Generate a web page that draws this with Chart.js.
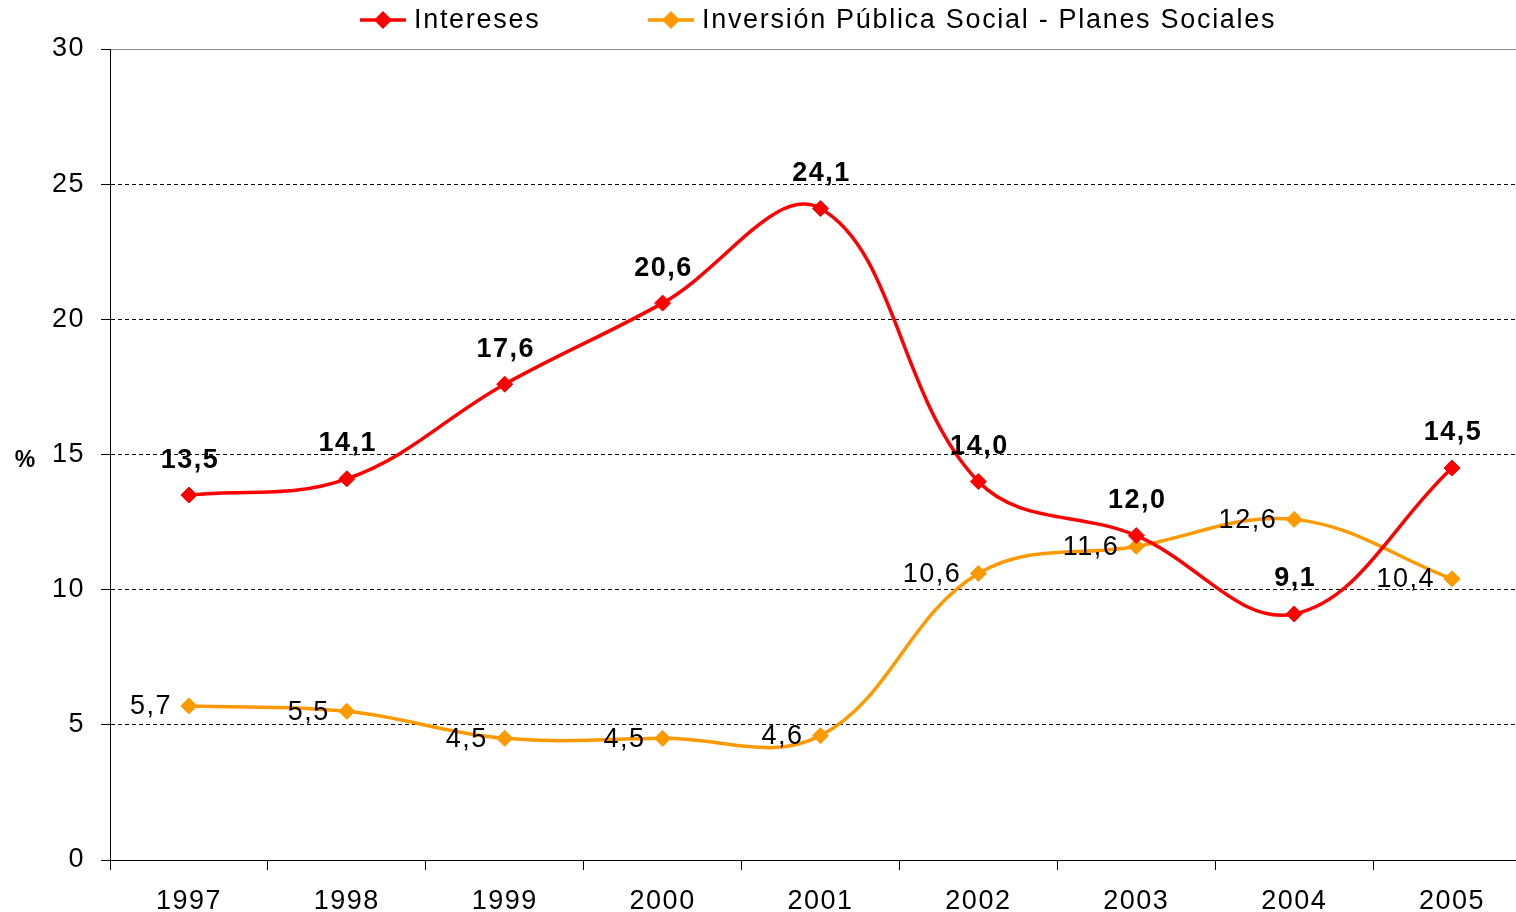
<!DOCTYPE html>
<html>
<head>
<meta charset="utf-8">
<script src="https://cdn.jsdelivr.net/npm/chart.js@4/dist/chart.umd.min.js"></script>
<style>
  html, body { margin: 0; padding: 0; background: #fff; overflow: hidden; }
  #wrap { width: 1540px; height: 930px; }
</style>
</head>
<body>
<div id="wrap"><canvas id="chart" width="1540" height="930"></canvas></div>
<script>
const years = ['1997', '1998', '1999', '2000', '2001', '2002', '2003', '2004', '2005'];
const intereses = [13.5, 14.1, 17.6, 20.6, 24.1, 14.0, 12.0, 9.1, 14.5];
const inversionSocial = [5.7, 5.5, 4.5, 4.5, 4.6, 10.6, 11.6, 12.6, 10.4];
const yTicks = [0, 5, 10, 15, 20, 25, 30];

const FONT = '"Liberation Sans", Arial, sans-serif';
const RED = '#ff0000';
const ORANGE = '#ff9900';

const fmt = (v) => v.toFixed(1).replace('.', ',');

function diamond(ctx, x, y, r, color) {
  ctx.beginPath();
  ctx.moveTo(x, y - r);
  ctx.lineTo(x + r, y);
  ctx.lineTo(x, y + r);
  ctx.lineTo(x - r, y);
  ctx.closePath();
  ctx.fillStyle = color;
  ctx.fill();
}

// the original text is a little wider than Liberation Sans, so space it out
const spacing = {
  id: 'spacing',
  beforeDraw(chart) {
    chart.ctx.letterSpacing = '1.5px';
  }
};

// value labels: bold above for Intereses, plain to the left for the orange series
const valueLabels = {
  id: 'valueLabels',
  afterDatasetsDraw(chart) {
    const ctx = chart.ctx;
    ctx.save();
    ctx.fillStyle = '#000';
    ctx.textBaseline = 'middle';
    chart.getDatasetMeta(0).data.forEach((pt, i) => {
      ctx.font = `bold 27px ${FONT}`;
      ctx.textAlign = 'center';
      ctx.fillText(fmt(intereses[i]), pt.x + 1, pt.y - 35);
    });
    chart.getDatasetMeta(1).data.forEach((pt, i) => {
      ctx.font = `27px ${FONT}`;
      ctx.textAlign = 'right';
      ctx.fillText(fmt(inversionSocial[i]), pt.x - 17, pt.y + 1);
    });
    ctx.restore();
  }
};

// legend across the top and the "%" axis caption
const topLegend = {
  id: 'topLegend',
  afterDraw(chart) {
    const ctx = chart.ctx;
    ctx.save();
    ctx.letterSpacing = '1.7px';
    ctx.font = `27px ${FONT}`;
    ctx.textBaseline = 'middle';
    ctx.textAlign = 'left';
    const y = 20;
    const items = [
      { x: 360, color: RED, text: 'Intereses' },
      { x: 648, color: ORANGE, text: 'Inversión Pública Social - Planes Sociales' }
    ];
    items.forEach((it) => {
      ctx.strokeStyle = it.color;
      ctx.lineWidth = 3.5;
      ctx.beginPath();
      ctx.moveTo(it.x, y);
      ctx.lineTo(it.x + 46, y);
      ctx.stroke();
      diamond(ctx, it.x + 23, y, 9, it.color);
      ctx.fillStyle = '#000';
      ctx.fillText(it.text, it.x + 54, y + 1);
    });

    ctx.letterSpacing = '0px';
    ctx.font = `bold 23px ${FONT}`;
    ctx.textAlign = 'center';
    ctx.fillText('%', 25, 461);
    ctx.restore();
  }
};

new Chart(document.getElementById('chart'), {
  type: 'line',
  data: {
    labels: years,
    datasets: [
      {
        label: 'Intereses',
        data: intereses,
        borderColor: RED,
        backgroundColor: RED,
        borderWidth: 3.5,
        tension: 0.38,
        pointStyle: 'rectRot',
        pointRadius: 8,
        pointBorderWidth: 1,
        pointBackgroundColor: RED,
        pointBorderColor: RED
      },
      {
        label: 'Inversión Pública Social - Planes Sociales',
        data: inversionSocial,
        borderColor: ORANGE,
        backgroundColor: ORANGE,
        borderWidth: 3.5,
        tension: 0.38,
        pointStyle: 'rectRot',
        pointRadius: 8,
        pointBorderWidth: 1,
        pointBackgroundColor: ORANGE,
        pointBorderColor: ORANGE
      }
    ]
  },
  options: {
    responsive: false,
    animation: false,
    layout: { padding: { top: 49, right: 0, left: 0, bottom: 0 } },
    plugins: {
      legend: { display: false },
      tooltip: { enabled: false }
    },
    scales: {
      x: {
        offset: true,
        grid: {
          offset: true,
          drawOnChartArea: false,
          tickLength: 10,
          tickColor: '#000',
          color: '#000'
        },
        border: { color: '#000', width: 1 },
        ticks: {
          color: '#000',
          font: { family: FONT, size: 27 },
          padding: 15,
          maxRotation: 0
        },
        afterFit: (scale) => { scale.height = 70; }
      },
      y: {
        min: 0,
        max: 30,
        afterBuildTicks: (scale) => { scale.ticks = yTicks.map((v) => ({ value: v })); },
        grid: {
          color: (c) => (c.tick && c.tick.value === 30 ? '#8c8c8c' : '#000'),
          lineWidth: 1,
          tickLength: 9,
          tickColor: '#000'
        },
        border: {
          color: '#000',
          width: 1,
          dash: (c) => (c.tick && c.tick.value !== 30 && c.tick.value !== 0 ? [4, 3] : [])
        },
        ticks: {
          color: '#000',
          font: { family: FONT, size: 27 },
          padding: 16
        },
        afterFit: (scale) => { scale.width = 110; }
      }
    }
  },
  plugins: [spacing, valueLabels, topLegend]
});
</script>
</body>
</html>
